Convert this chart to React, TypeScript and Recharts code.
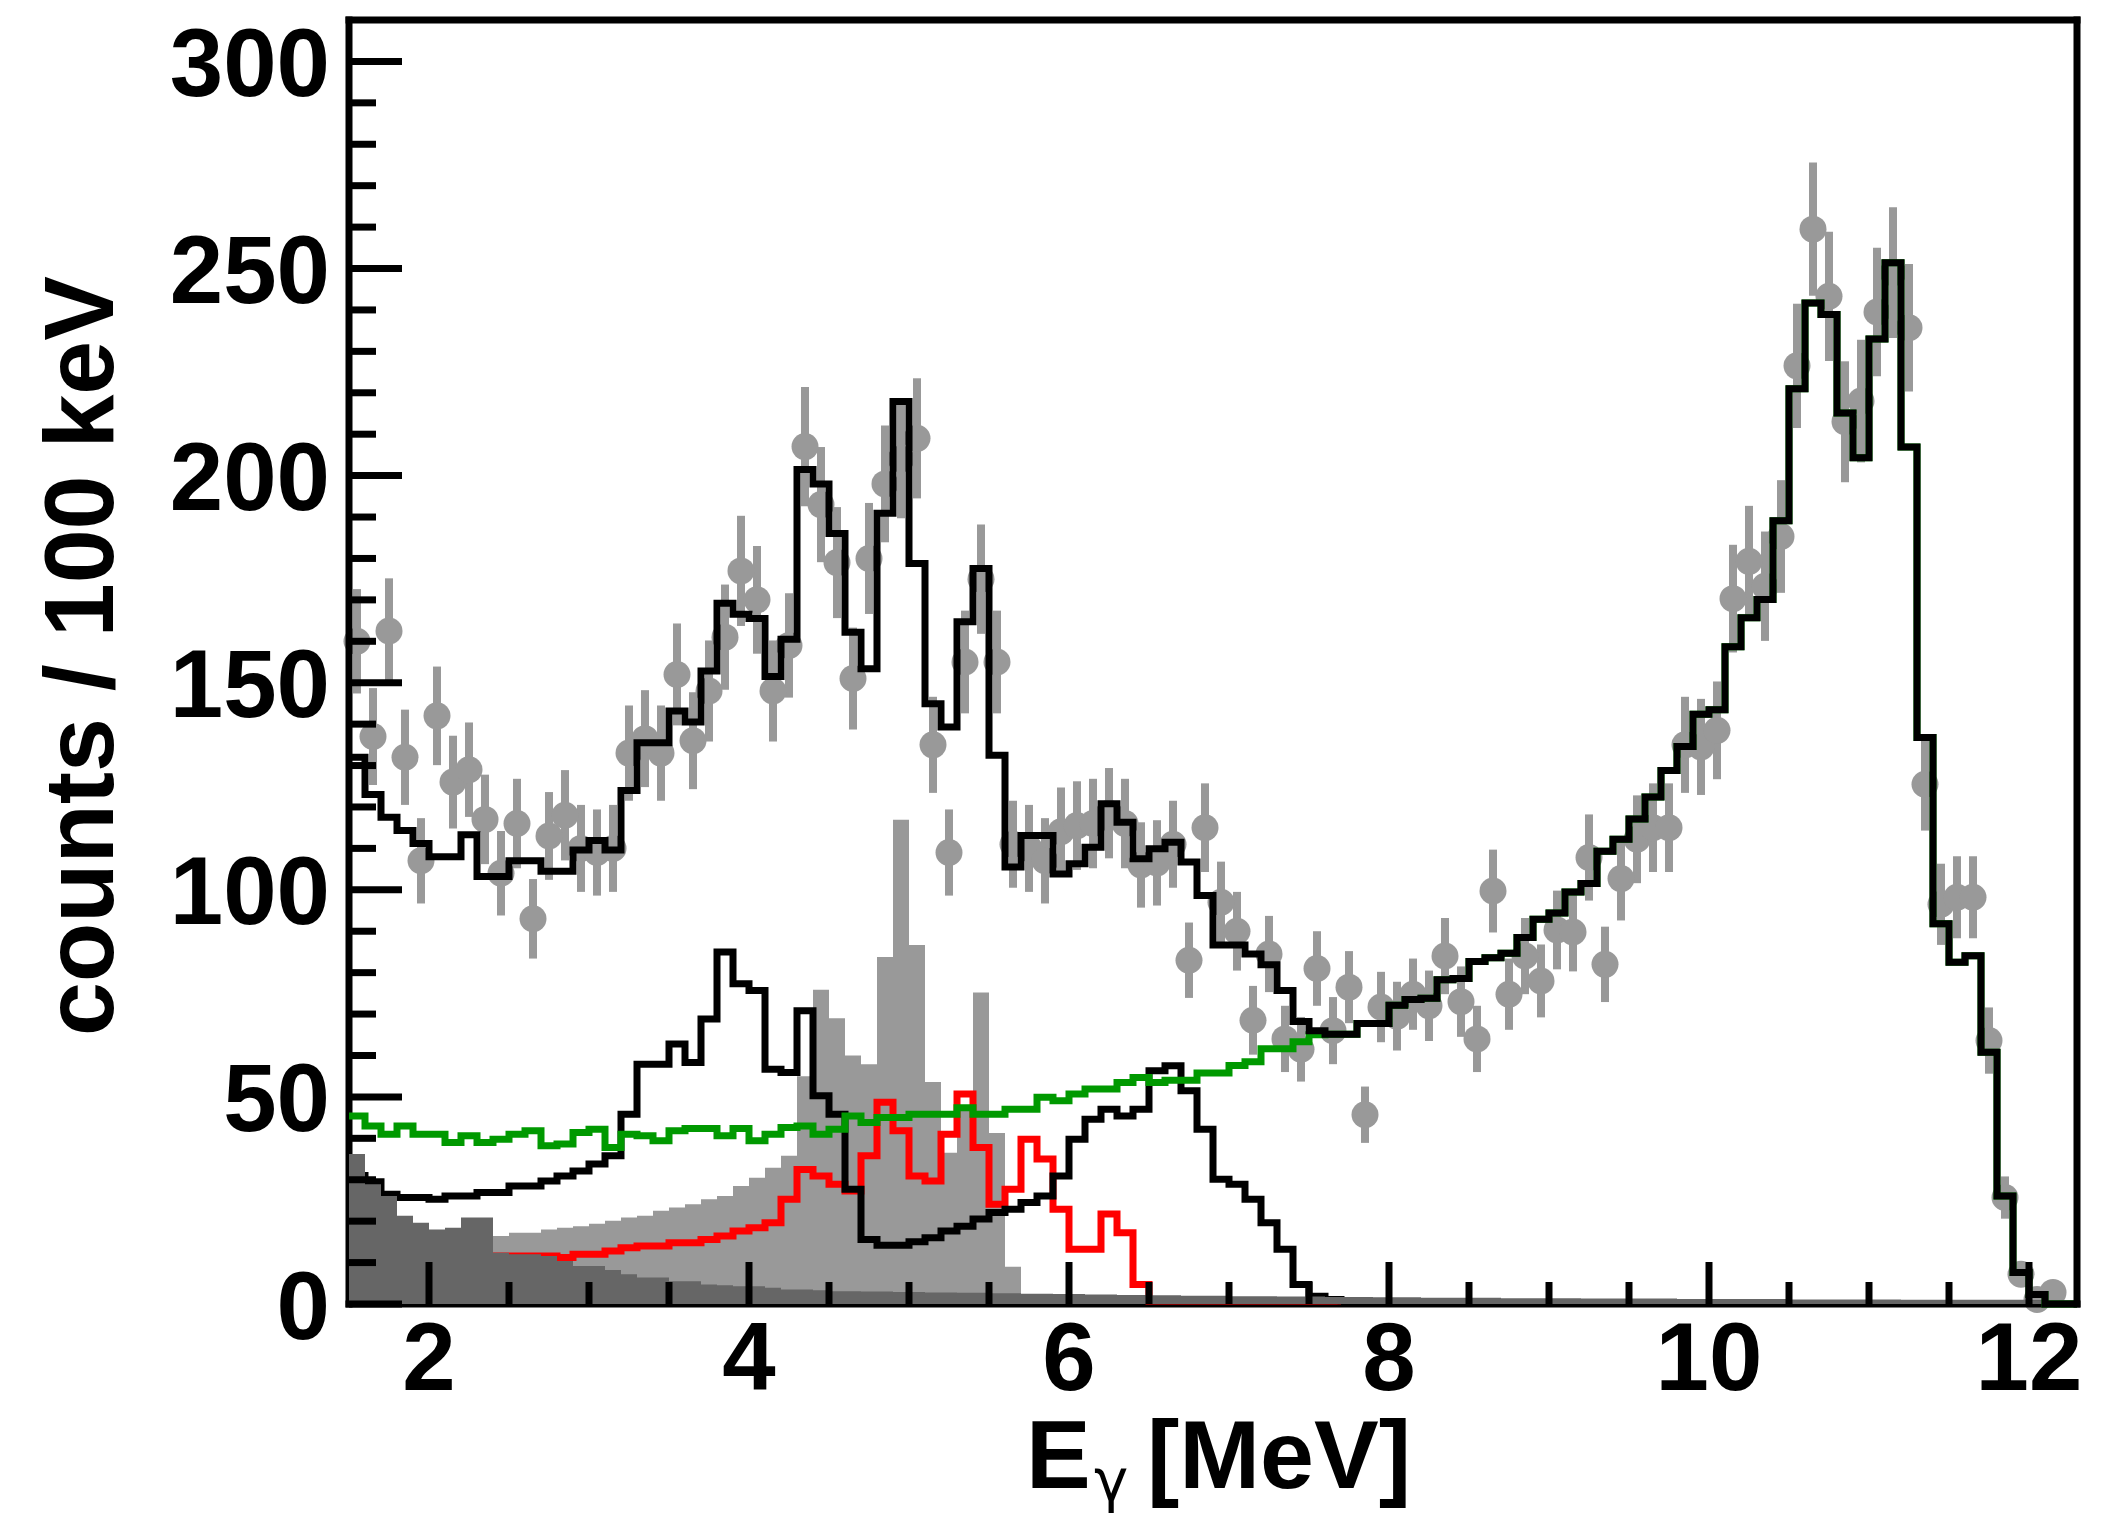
import { ComposedChart, Line, Area, Scatter, ErrorBar, XAxis, YAxis, ReferenceLine } from 'recharts'

// 100 keV bins starting at 1.5 MeV
const BIN_START = 1.5
const BIN_WIDTH = 0.1
const N_BINS = 108
const X_MAX = 12.3
const Y_MAX = 310

// summed fit (black, upper)
const TOTAL = [
  132, 123, 117.5, 114.3, 111.2, 108, 108, 113.3, 103.2, 103.2,
  107, 107, 104.5, 104.5, 109.6, 111.9, 109.6, 124, 135.5, 135.5,
  143.2, 140.5, 152.8, 169.2, 166.5, 165.5, 151.5, 160.5, 201.5, 198,
  186, 162.2, 153.4, 190.9, 217.9, 178.8, 144.9, 139.3, 164.7, 177.6,
  132.5, 105.5, 113.1, 113.1, 103.8, 106.3, 110.3, 120.8, 116.3, 107.5,
  109.9, 111.5, 106.7, 98.6, 86.7, 86.7, 84.5, 81.9, 75.7, 68.2,
  66, 65.1, 65.1, 67.7, 67.7, 72.1, 73.5, 73.8, 78.3, 78.6,
  82.7, 83.6, 84.7, 88.5, 92.9, 94.4, 99.5, 101.5, 109.3, 112.2,
  117.1, 122.4, 128.8, 134.6, 142.4, 143.5, 158.7, 165.7, 170.1, 189.1,
  221, 241.7, 238.9, 215.1, 204.3, 233, 251.4, 206.9, 136.8, 91.8,
  82.5, 84.1, 60.8, 26.1, 7.6, 2.3, 0, 0,
]

// green component
const GREEN = [
  45.4, 43, 41, 43, 41, 41, 39, 40.6, 39, 39.8,
  41, 41.8, 38.2, 38.6, 41.4, 42.2, 37.8, 41, 40.6, 39.4,
  41.8, 42.4, 42.4, 40.6, 42.4, 39.4, 41, 42.6, 43, 41,
  42.2, 45.4, 43.8, 45, 45, 45.8, 45.8, 45.8, 47.4, 45.8,
  45.8, 47, 47, 49.9, 49.1, 50.7, 51.9, 51.9, 53.5, 54.7,
  53.5, 54, 54, 55.8, 55.8, 57.6, 58.5, 61.6, 61.6, 63.3,
  65, 65.1, 65.1, 67.7, 67.7, 72.1, 73.5, 73.8, 78.3, 78.6,
  82.7, 83.6, 84.7, 88.5, 92.9, 94.4, 99.5, 101.5, 109.3, 112.2,
  117.1, 122.4, 128.8, 134.6, 142.4, 143.5, 158.7, 165.7, 170.1, 189.1,
  221, 241.7, 238.9, 215.1, 204.3, 233, 251.4, 206.9, 136.8, 91.8,
  82.5, 84.1, 60.8, 26.1, 7.6, 2.3, 0, 0,
]

// black component (lower), ends at 8.0 MeV
const LOWER = [
  31, 29.5, 26.5, 25.7, 25.7, 25.3, 26.1, 26.1, 26.9, 26.9,
  28.5, 28.5, 29.7, 30.9, 32.1, 33.8, 35.8, 45.8, 57.9, 57.9,
  62.8, 58.3, 68.8, 85, 77.3, 75.7, 56.7, 55.9, 70.8, 50.3,
  45.8, 27.7, 15.6, 14.2, 14.2, 15, 16, 17.6, 18.8, 20.5,
  22.1, 22.9, 24.5, 26.1, 30.9, 39.8, 44.6, 47, 45.4, 47,
  56.3, 57.5, 51.5, 42.2, 30.1, 28.9, 25.3, 19.6, 13.2, 4.7,
  1.9, 1.1, 0.8, 0.6, 0.5,
]

// red component, ends at 7.7 MeV
const RED = [
  10.5, 10.5, 10.8, 10.8, 11, 11, 11, 11.2, 11.4, 11.6,
  11.6, 11.6, 11.6, 11.2, 12, 12, 12.8, 13.6, 14, 14,
  14.8, 14.8, 15.6, 16.4, 17.6, 18.4, 19.6, 25.3, 32.5, 30.9,
  28.9, 27.3, 35.8, 48.7, 41.8, 30.9, 29.7, 41, 50.7, 37.8,
  24.1, 27.7, 39.8, 35, 22.9, 13.2, 13.2, 21.7, 17.2, 4.7,
  0.7, 0.7, 0.7, 0.7, 0.7, 0.7, 0.7, 0.7, 0.7, 0.7,
  0.7, 0.7,
]

// light grey filled component, ends at 5.7 MeV
const LIGHT = [
  0, 0, 0, 0, 0, 0, 0, 0, 16, 16.4,
  17.2, 17.2, 18, 18.4, 18.8, 19.4, 20.1, 20.9, 21.3, 22.5,
  23.3, 24.1, 25.3, 26.1, 28.5, 30.5, 32.9, 35.8, 55, 75.9,
  69, 60, 57.9, 83.8, 116.9, 86.7, 53.6, 36.5, 48, 75.2,
  41.3, 9,
]

// dark grey filled component
const DARK = [
  36.2, 28.9, 26.1, 21.3, 19.6, 18, 18.4, 20.9, 20.9, 12.4,
  12, 12, 11.6, 10.4, 9.2, 9.2, 8.2, 7.2, 6.4, 6.4,
  5.5, 5.5, 4.7, 4.5, 4.3, 4.3, 3.9, 3.5, 3.5, 3.3,
  3.1, 3.1, 3, 3, 2.9, 2.9, 2.8, 2.8, 2.7, 2.7,
  2.6, 2.6, 2.5, 2.5, 2.4, 2.4, 2.3, 2.3, 2.2, 2.2,
  2.1, 2.1, 2, 2, 2, 1.9, 1.9, 1.9, 1.8, 1.8,
  1.8, 1.7, 1.7, 1.7, 1.6, 1.6, 1.6, 1.5, 1.5, 1.5,
  1.5, 1.5, 1.4, 1.4, 1.4, 1.4, 1.4, 1.3, 1.3, 1.3,
  1.3, 1.3, 1.3, 1.2, 1.2, 1.2, 1.2, 1.2, 1.2, 1.2,
  1.1, 1.1, 1.1, 1.1, 1.1, 1.1, 1.1, 1, 1, 1,
  1, 1, 1, 1, 1, 0.9, 0.9, 0.9,
]

// measured counts at bin centres (1.55 ... 12.15 MeV)
const COUNTS = [
  160, 137, 162.5, 132, 107, 142, 126, 129, 117, 104,
  116, 93, 113, 118, 110, 109, 110, 133, 136.5, 133,
  152, 136, 148, 161, 177, 170, 148, 159, 207, 193,
  179, 151, 180, 198, 204, 209, 135, 109, 155, 175,
  155, 111, 110, 107, 114, 115.5, 116, 118.5, 116, 106,
  106.5, 111, 83, 115, 97, 90, 68.5, 84.5, 64, 61.5,
  81, 66, 76.5, 45.7, 71.7, 69.5, 74.8, 72, 84, 73,
  64, 99.7, 74.8, 84, 78, 90.3, 89.8, 107.8, 82, 102.7,
  112.2, 115, 115, 135, 134.5, 138.5, 170.3, 179.3, 173.3, 185.3,
  226.5, 259.5, 243.3, 213, 218, 239.5, 249, 235.7, 125.5, 96.5,
  98.2, 98.2, 63.6, 25.7, 7.2, 1.1, 2.8,
]

const ERRORS = [
  12.6, 11.7, 12.7, 11.5, 10.3, 11.9, 11.2, 11.4, 10.8, 10.2,
  10.8, 9.6, 10.6, 10.9, 10.5, 10.4, 10.5, 11.5, 11.7, 11.5,
  12.3, 11.7, 12.2, 12.7, 13.3, 13, 12.2, 12.6, 14.4, 13.9,
  13.4, 12.3, 13.4, 14.1, 14.3, 14.5, 11.6, 10.4, 12.4, 13.2,
  12.4, 10.5, 10.5, 10.3, 10.7, 10.7, 10.8, 10.9, 10.8, 10.3,
  10.3, 10.5, 9.1, 10.7, 9.8, 9.5, 8.3, 9.2, 8, 7.8,
  9, 8.1, 8.7, 6.8, 8.5, 8.3, 8.6, 8.5, 9.2, 8.5,
  8, 10, 8.6, 9.2, 8.8, 9.5, 9.5, 10.4, 9.1, 10.1,
  10.6, 10.7, 10.7, 11.6, 11.6, 11.8, 13, 13.4, 13.2, 13.6,
  15, 16.1, 15.6, 14.6, 14.8, 15.5, 15.8, 15.4, 11.2, 9.8,
  9.9, 9.9, 8, 5.1, 2.7, 1, 1.7,
]

const X_TICKS = [2, 2.5, 3, 3.5, 4, 4.5, 5, 5.5, 6, 6.5, 7, 7.5, 8, 8.5, 9, 9.5, 10, 10.5, 11, 11.5, 12]
const Y_TICKS = [
  0, 10, 20, 30, 40, 50, 60, 70, 80, 90, 100, 110, 120, 130, 140, 150,
  160, 170, 180, 190, 200, 210, 220, 230, 240, 250, 260, 270, 280, 290, 300,
]

const WIDTH = 2095
const HEIGHT = 1509
const MARGIN = { top: 12, right: 26, bottom: 113, left: 141 }
const Y_AXIS_WIDTH = 200
const X_AXIS_HEIGHT = 100
const PLOT_LEFT = MARGIN.left + Y_AXIS_WIDTH
const PLOT_RIGHT = WIDTH - MARGIN.right
const PLOT_TOP = MARGIN.top
const PLOT_BOTTOM = HEIGHT - MARGIN.bottom - X_AXIS_HEIGHT

const FONT = '"Liberation Sans", Arial, Helvetica, sans-serif'
const STROKE = 7

// value of a histogram at edge i; short series drop to zero then stop
function edgeValue(values: number[], i: number) {
  if (i < values.length) return values[i]
  if (i === values.length) return values.length === N_BINS ? values[N_BINS - 1] : 0
  return null
}

const rows = Array.from({ length: N_BINS + 1 }, (_, i) => ({
  x: Math.round((BIN_START + i * BIN_WIDTH) * 100) / 100,
  total: edgeValue(TOTAL, i),
  green: edgeValue(GREEN, i),
  lower: edgeValue(LOWER, i),
  red: edgeValue(RED, i),
  light: edgeValue(LIGHT, i),
  dark: edgeValue(DARK, i),
}))

const points = COUNTS.map((y, i) => ({
  x: Math.round((BIN_START + BIN_WIDTH / 2 + i * BIN_WIDTH) * 100) / 100,
  y,
  err: ERRORS[i],
}))

function YTick({ x, y, payload }: any) {
  const major = payload.value % 50 === 0
  return (
    <g>
      <line x1={x} y1={y} x2={x + (major ? 53 : 27)} y2={y} stroke="#000" strokeWidth={STROKE} />
      {major && (
        <text x={x - 19} y={y} dy="0.36em" textAnchor="end" fontFamily={FONT} fontWeight="bold" fontSize={96} fill="#000">
          {payload.value}
        </text>
      )}
    </g>
  )
}

function XTick({ x, y, payload }: any) {
  const major = payload.value % 2 === 0
  return (
    <g>
      <line x1={x} y1={y} x2={x} y2={y - (major ? 42 : 22)} stroke="#000" strokeWidth={STROKE} />
      {major && (
        <text x={x} y={y + 86} textAnchor="middle" fontFamily={FONT} fontWeight="bold" fontSize={96} fill="#000">
          {payload.value}
        </text>
      )}
    </g>
  )
}

function XTitle() {
  const x0 = (PLOT_LEFT + PLOT_RIGHT) / 2 - 187
  const base = PLOT_BOTTOM + 184
  return (
    <g fill="#000">
      <text x={x0} y={base} fontFamily={FONT} fontWeight="bold" fontSize={97}>E</text>
      <text x={x0 + 68} y={base + 13} fontFamily='"DejaVu Sans", sans-serif' fontSize={58}>γ</text>
      <text x={x0 + 121} y={base} fontFamily={FONT} fontWeight="bold" fontSize={97}>[MeV]</text>
    </g>
  )
}

function YTitle() {
  const bx = MARGIN.left - 36
  const cy = (PLOT_TOP + PLOT_BOTTOM) / 2 - 6
  return (
    <text
      x={bx}
      y={cy}
      transform={`rotate(-90 ${bx} ${cy})`}
      textAnchor="middle"
      fontFamily={FONT}
      fontWeight="bold"
      fontSize={98}
      textLength={760}
      lengthAdjust="spacingAndGlyphs"
      fill="#000"
    >
      counts / 100 keV
    </text>
  )
}

const renderDot = (p: any) => <circle cx={p.cx} cy={p.cy} r={13.5} fill="#999999" />

export default function App() {
  return (
    <ComposedChart width={WIDTH} height={HEIGHT} data={rows} margin={MARGIN}>
      <Scatter data={points} dataKey="y" shape={renderDot} isAnimationActive={false} zIndex={100}>
        <ErrorBar dataKey="err" direction="y" width={0} stroke="#999999" strokeWidth={8} isAnimationActive={false} zIndex={100} />
      </Scatter>
      <XAxis
        dataKey="x"
        type="number"
        domain={[BIN_START, X_MAX]}
        ticks={X_TICKS}
        interval={0}
        height={X_AXIS_HEIGHT}
        tickSize={0}
        tickMargin={0}
        tickLine={false}
        tick={<XTick />}
        axisLine={{ stroke: '#000', strokeWidth: STROKE, strokeLinecap: 'square' }}
        label={<XTitle />}
        zIndex={200}
      />
      <YAxis
        type="number"
        domain={[0, Y_MAX]}
        ticks={Y_TICKS}
        interval={0}
        width={Y_AXIS_WIDTH}
        tickSize={0}
        tickMargin={0}
        tickLine={false}
        tick={<YTick />}
        axisLine={{ stroke: '#000', strokeWidth: STROKE, strokeLinecap: 'square' }}
        label={<YTitle />}
        zIndex={200}
      />
      <Area type="stepAfter" dataKey="light" stroke="none" fill="#999999" fillOpacity={1} isAnimationActive={false} zIndex={300} />
      <Line type="stepAfter" dataKey="red" stroke="#ff0000" strokeWidth={STROKE} dot={false} activeDot={false} isAnimationActive={false} zIndex={310} />
      <Line type="stepAfter" dataKey="lower" stroke="#000" strokeWidth={STROKE} dot={false} activeDot={false} isAnimationActive={false} zIndex={320} />
      <Area type="stepAfter" dataKey="dark" stroke="none" fill="#666666" fillOpacity={1} isAnimationActive={false} zIndex={330} />
      <Line type="stepAfter" dataKey="green" stroke="#009900" strokeWidth={STROKE} dot={false} activeDot={false} isAnimationActive={false} zIndex={340} />
      <Line type="stepAfter" dataKey="total" stroke="#000" strokeWidth={STROKE} dot={false} activeDot={false} isAnimationActive={false} zIndex={350} />
      <ReferenceLine y={Y_MAX} stroke="#000" strokeWidth={STROKE} strokeLinecap="square" zIndex={400} />
      <ReferenceLine x={X_MAX} stroke="#000" strokeWidth={STROKE} strokeLinecap="square" zIndex={400} />
    </ComposedChart>
  )
}
